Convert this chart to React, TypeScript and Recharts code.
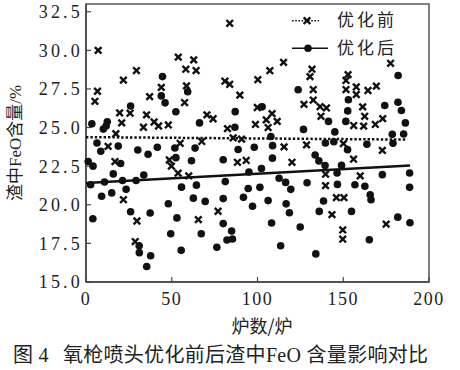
import React from 'react';
import { ScatterChart, Scatter, XAxis, YAxis, ReferenceArea, Legend } from 'recharts';

const beforeX = [7.1, 6.7, 5.2, 21.8, 29.4, 19.6, 20.8, 25.7, 17.4, 12.9, 16.9, 21.8, 29.7, 28.7, 37.1, 35.3, 33.5, 39.7, 42.3, 48.0, 43.9, 53.8, 58.2, 62.8, 64.2, 58.6, 57.5, 54.9, 48.6, 49.8, 53.7, 59.9, 65.5, 67.5, 83.8, 70.5, 74.1, 81.0, 83.8, 89.7, 82.5, 85.8, 90.7, 88.3, 93.4, 77.0, 100.2, 107.2, 115.2, 99.9, 98.8, 105.1, 108.5, 111.5, 106.2, 115.5, 120.1, 128.6, 127.1, 130.6, 131.8, 132.5, 132.5, 136.5, 140.2, 137.0, 177.6, 152.8, 151.6, 151.6, 157.6, 157.6, 164.4, 169.3, 161.3, 162.5, 156.1, 161.9, 168.7, 173.0, 150.1, 156.0, 172.8, 139.7, 139.7, 159.9, 143.4, 146.0, 150.4, 149.7, 149.7, 175.0];
const beforeY = [30.0, 27.35, 26.7, 28.07, 28.69, 25.95, 25.3, 25.93, 24.6, 23.78, 22.8, 20.33, 18.95, 17.62, 27.0, 25.82, 25.02, 25.36, 25.1, 25.17, 27.6, 29.56, 28.78, 29.38, 28.69, 27.7, 26.62, 23.98, 22.9, 22.5, 22.05, 21.87, 19.04, 24.1, 31.75, 25.82, 25.57, 28.0, 27.8, 27.1, 24.93, 24.33, 24.25, 22.75, 22.87, 19.58, 28.1, 28.68, 29.22, 26.3, 25.2, 25.5, 25.9, 25.4, 25.0, 23.75, 22.75, 23.88, 26.5, 28.3, 28.78, 27.46, 26.78, 26.35, 26.27, 25.73, 29.16, 28.43, 28.05, 27.46, 27.63, 27.14, 27.4, 27.68, 26.34, 25.73, 25.13, 25.09, 25.2, 25.58, 23.96, 22.95, 23.52, 21.98, 21.24, 21.87, 19.36, 20.46, 20.46, 18.37, 17.77, 18.75];

const afterX = [3.4, 10.1, 11.7, 12.4, 6.4, 8.6, 1.3, 4.1, 2.7, 10.8, 15.9, 18.8, 20.2, 26.0, 9.1, 15.0, 21.3, 23.4, 4.0, 26.0, 30.2, 29.2, 33.7, 36.2, 41.6, 44.6, 43.9, 46.1, 52.4, 59.3, 66.2, 51.8, 52.4, 61.5, 63.6, 55.7, 62.6, 48.0, 53.0, 49.4, 55.5, 31.0, 31.1, 37.7, 35.4, 37.4, 67.2, 64.4, 69.5, 76.3, 80.0, 81.2, 80.0, 80.0, 82.2, 84.9, 85.4, 88.7, 86.8, 87.0, 95.0, 98.1, 102.3, 102.7, 107.8, 108.8, 108.7, 123.7, 126.8, 133.6, 94.6, 101.4, 91.8, 97.1, 106.2, 112.6, 116.4, 119.4, 116.7, 118.6, 128.9, 108.2, 113.5, 124.9, 134.0, 182.0, 181.9, 183.9, 174.2, 186.2, 153.0, 152.6, 151.5, 141.4, 145.1, 139.6, 144.5, 152.5, 163.8, 179.0, 178.6, 185.2, 135.8, 139.4, 146.4, 149.0, 156.8, 162.6, 172.8, 188.7, 188.7, 146.6, 138.5, 136.0, 165.7, 166.2, 154.8, 181.8, 188.9, 165.2];
const afterY = [25.24, 24.9, 25.1, 25.37, 24.0, 23.47, 22.8, 22.5, 21.3, 21.47, 22.0, 23.8, 22.67, 26.4, 20.55, 20.77, 21.57, 21.0, 19.1, 19.55, 23.55, 21.57, 21.93, 23.27, 23.72, 28.3, 27.05, 26.6, 26.02, 27.32, 25.3, 23.68, 23.05, 22.85, 23.67, 21.14, 20.43, 20.07, 19.15, 18.12, 17.05, 17.35, 16.9, 16.7, 16.0, 19.47, 18.12, 21.27, 20.22, 17.25, 22.92, 21.5, 20.4, 18.78, 17.72, 18.3, 17.78, 23.58, 25.02, 26.03, 22.12, 23.72, 22.35, 26.34, 24.42, 23.83, 23.02, 27.45, 24.88, 23.22, 21.05, 21.13, 20.48, 19.9, 20.27, 21.72, 21.45, 21.0, 20.06, 19.48, 21.43, 18.82, 17.35, 18.56, 16.82, 28.37, 26.64, 26.1, 26.43, 25.3, 26.8, 26.08, 25.4, 25.4, 24.72, 24.0, 24.08, 23.57, 23.92, 23.98, 24.56, 24.58, 22.84, 22.54, 22.06, 22.55, 21.3, 21.2, 21.95, 22.06, 21.13, 21.32, 20.24, 19.57, 20.65, 20.33, 19.57, 19.2, 18.84, 17.74];

const trendBeforeX = [0, 187];
const trendBeforeY = [24.38, 24.22];
const trendAfterX = [0, 189];
const trendAfterY = [21.41, 22.54];

const xTicks = [0, 50, 100, 150, 200];
const yTicks = [15, 17.5, 20, 22.5, 25, 27.5, 30, 32.5];
const seriesNames = ['优化前', '优化后'];
const xLabel = '炉数/炉';
const yLabel = '渣中FeO含量/%';
const captionFig = '图 4';
const captionText = '氧枪喷头优化前后渣中FeO 含量影响对比';

const zip = (xs: number[], ys: number[]) => xs.map((x, i) => ({ x, y: ys[i] }));

const INK = '#111';
const CJK = "'Liberation Serif', 'Noto Sans CJK SC', serif";
const NUM = "'Liberation Serif', serif";

const Cross = (props: any) => {
  const { cx, cy } = props;
  const s = 3.3;
  return (
    <g>
      <line x1={cx - s} y1={cy - s} x2={cx + s} y2={cy + s} stroke={INK} strokeWidth={2.4} />
      <line x1={cx - s} y1={cy + s} x2={cx + s} y2={cy - s} stroke={INK} strokeWidth={2.4} />
    </g>
  );
};

const Dot = (props: any) => {
  const { cx, cy } = props;
  return <circle cx={cx} cy={cy} r={3.8} fill={INK} />;
};

const NoShape = () => <g />;

const LegendBox = () => (
  <svg width={170} height={60} style={{ display: 'block' }}>
    <line x1={7} x2={34} y1={16.7} y2={16.7} stroke={INK} strokeWidth={1.6} strokeDasharray="1.6 1.6" />
    <Cross cx={22} cy={16.7} />
    <text x={52} y={16.7} dominantBaseline="central" fontSize={17} letterSpacing={3} fontFamily={CJK} fill="#222">{seriesNames[0]}</text>
    <line x1={7} x2={43} y1={44.3} y2={44.3} stroke={INK} strokeWidth={1.6} />
    <Dot cx={23} cy={44.3} />
    <text x={52} y={44.3} dominantBaseline="central" fontSize={17} letterSpacing={3} fontFamily={CJK} fill="#222">{seriesNames[1]}</text>
  </svg>
);

const XLabelContent = () => (
  <text x={262} y={325} textAnchor="middle" dominantBaseline="central" fontSize={18} fontFamily="'Noto Sans CJK SC', sans-serif" fill="#222">{xLabel}</text>
);

const YLabelContent = () => (
  <text transform="translate(15,143) rotate(-90)" textAnchor="middle" dominantBaseline="central" fontSize={17} fontFamily={CJK} fill="#222">{yLabel}</text>
);

export default function App() {
  return (
    <div style={{ position: 'absolute', left: 0, top: 0, width: 460, height: 370, background: '#fff' }}>
      <ScatterChart width={460} height={370} margin={{ top: 4, right: 31, left: 0, bottom: 0 }}>
        <XAxis
          type="number"
          dataKey="x"
          domain={[0, 200]}
          ticks={xTicks}
          height={88}
          tickSize={-5}
          tickMargin={15}
          interval={0}
          tick={{ fontFamily: NUM, fontSize: 18, letterSpacing: 1.5, fill: '#222' }}
          axisLine={{ stroke: '#444', strokeWidth: 1.5 }}
          tickLine={{ stroke: '#444', strokeWidth: 1.2 }}
          label={{ content: XLabelContent }}
        />
        <YAxis
          type="number"
          dataKey="y"
          domain={[15, 33]}
          ticks={yTicks}
          width={86}
          tickSize={-5}
          tickMargin={8}
          interval={0}
          allowDataOverflow
          tickFormatter={(v: number) => v.toFixed(1)}
          tick={{ fontFamily: NUM, fontSize: 18, letterSpacing: 3.2, fill: '#222' }}
          axisLine={{ stroke: '#444', strokeWidth: 1.5 }}
          tickLine={{ stroke: '#444', strokeWidth: 1.2 }}
          label={{ content: YLabelContent }}
        />
        <ReferenceArea x1={0} x2={200} y1={15} y2={33} fill="none" stroke="#555" strokeWidth={1.5} ifOverflow="visible" />
        <Legend
          layout="vertical"
          align="center"
          verticalAlign="middle"
          wrapperStyle={{ position: 'absolute', left: 285, top: 4, width: 170, height: 60 }}
          content={() => <LegendBox />}
        />
        <Scatter name={seriesNames[0]} data={zip(beforeX, beforeY)} shape={Cross} isAnimationActive={false} />
        <Scatter name={seriesNames[1]} data={zip(afterX, afterY)} shape={Dot} isAnimationActive={false} />
        <Scatter
          data={zip(trendBeforeX, trendBeforeY)}
          line={{ stroke: INK, strokeWidth: 2.5, strokeDasharray: '2.4 2' }}
          shape={NoShape}
          legendType="none"
          isAnimationActive={false}
        />
        <Scatter
          data={zip(trendAfterX, trendAfterY)}
          line={{ stroke: INK, strokeWidth: 2.5 }}
          shape={NoShape}
          legendType="none"
          isAnimationActive={false}
        />
      </ScatterChart>
      <div
        style={{
          position: 'absolute',
          left: 13,
          top: 344,
          height: 22,
          lineHeight: '22px',
          fontSize: 20,
          fontFamily: "'Liberation Serif', 'Noto Sans CJK SC', sans-serif",
          fontWeight: 400,
          color: '#222',
          whiteSpace: 'nowrap',
          letterSpacing: 0.3,
        }}
      >
        <span>{captionFig}</span>
        <span style={{ marginLeft: 14 }}>{captionText}</span>
      </div>
    </div>
  );
}
